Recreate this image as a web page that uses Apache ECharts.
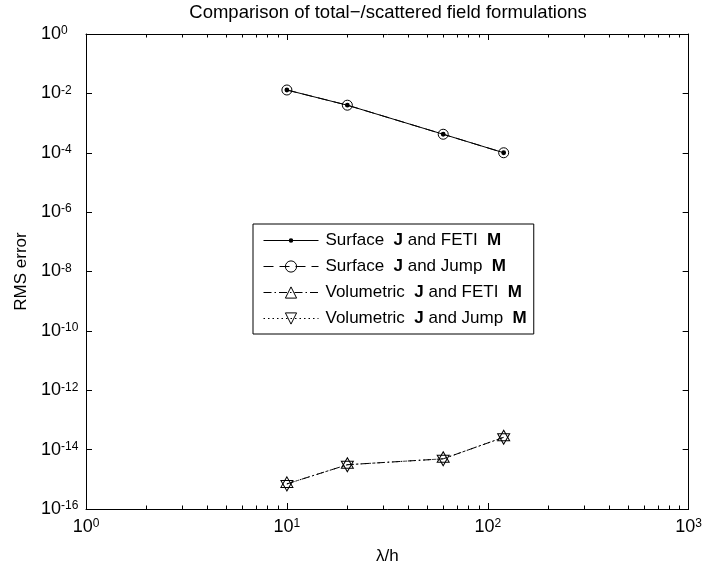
<!DOCTYPE html>
<html><head><meta charset="utf-8">
<script src="https://cdn.jsdelivr.net/npm/echarts@6/dist/echarts.min.js"></script>
<style>html,body{margin:0;padding:0;background:#fff}#c{width:705px;height:571px}</style>
</head><body><div id="c"></div>
<script>
// ---- data ----
const lambdaH = [10, 20, 60, 120];
const surfaceFETI = [1.3e-2, 4.0e-3, 4.2e-4, 1.0e-4];
const surfaceJump = [1.3e-2, 4.0e-3, 4.2e-4, 1.0e-4];
const volumetricFETI = [7.0e-16, 3.1e-15, 4.9e-15, 2.6e-14];
const volumetricJump = [7.0e-16, 3.1e-15, 4.9e-15, 2.6e-14];
const seriesNames = ['Surface J and FETI M', 'Surface J and Jump M', 'Volumetric J and FETI M', 'Volumetric J and Jump M'];
const xMinorTicks = [2,3,4,5,6,7,8,9,20,30,40,50,60,70,80,90,200,300,400,500,600,700,800,900];
const titleText = 'Comparison of total\u2212/scattered field formulations';
const xName = '\u03bb/h';
const yName = 'RMS error';

const FONT = 'Liberation Sans, Arial, Helvetica, sans-serif';
const pairs = ys => lambdaH.map((x, i) => [x, ys[i]]);
const supLabel = v => {
  const e = Math.round(Math.log10(v));
  return '{b|10}{s|' + e + '}';
};
const labelRich = {
  b: { fontSize: 18, lineHeight: 18, padding: [7, 0, 7, 0], fontFamily: FONT, color: '#000' },
  s: { fontSize: 12, lineHeight: 12, verticalAlign: 'top', fontFamily: FONT, color: '#000' }
};
const dotSymbol = 'path://M0,0M12,12M6,3.6A2.4,2.4 0 1 1 5.99,3.6Z';
const hollow = { color: 'rgba(0,0,0,0)', borderColor: '#000', borderWidth: 1 };

const chart = echarts.init(document.getElementById('c'));
chart.setOption({
  animation: false,
  backgroundColor: '#fff',
  title: {
    text: titleText, left: 388, top: 3, textAlign: 'center', padding: 0,
    textStyle: { fontSize: 18.5, fontWeight: 'normal', color: '#000', fontFamily: FONT }
  },
  grid: { left: 86, right: 14, top: 34, bottom: 62 },
  legend: {
    orient: 'vertical', left: 253, top: 224,
    padding: [8, 7, 7, 10],
    itemWidth: 55, itemHeight: 14, itemGap: 9,
    borderColor: '#000', borderWidth: 1, borderRadius: 0, backgroundColor: '#fff',
    selectedMode: false,
    data: seriesNames,
    lineStyle: { width: 1 },
    itemStyle: { borderWidth: 1 },
    formatter: n => n.replace(/^(\S+) J and (\S+) M$/, '$1  {b|J} and $2  {b|M}'),
    textStyle: {
      fontSize: 17, lineHeight: 14, color: '#000', fontFamily: FONT, padding: [0, 0, 0, 2],
      rich: { b: { fontSize: 17, lineHeight: 14, fontWeight: 'bold', color: '#000', fontFamily: FONT } }
    }
  },
  xAxis: [{
    type: 'log', min: 1, max: 1000, position: 'bottom',
    name: xName, nameLocation: 'middle', nameGap: 34,
    nameTextStyle: { fontSize: 17, color: '#000', fontFamily: FONT },
    axisLine: { lineStyle: { color: '#000', width: 1 } },
    axisTick: { inside: true, length: 6, lineStyle: { color: '#000' } },
    axisLabel: { margin: 9, formatter: supLabel, rich: labelRich },
    splitLine: { show: false }
  }, {
    type: 'log', min: 1, max: 1000, position: 'top',
    axisLine: { lineStyle: { color: '#000', width: 1 } },
    axisTick: { inside: true, length: 6, lineStyle: { color: '#000' } },
    axisLabel: { show: false }, splitLine: { show: false }
  }],
  yAxis: [{
    type: 'log', min: 1e-16, max: 1, interval: 2, position: 'left',
    name: yName, nameLocation: 'middle', nameGap: 54, nameRotate: 90,
    nameTextStyle: { fontSize: 17, color: '#000', fontFamily: FONT },
    axisLine: { lineStyle: { color: '#000', width: 1 } },
    axisTick: { inside: true, length: 6, lineStyle: { color: '#000' } },
    axisLabel: { margin: 45, align: 'left', formatter: supLabel, rich: labelRich },
    splitLine: { show: false }
  }, {
    type: 'log', min: 1e-16, max: 1, interval: 2, position: 'right',
    axisLine: { lineStyle: { color: '#000', width: 1 } },
    axisTick: { inside: true, length: 6, lineStyle: { color: '#000' } },
    axisLabel: { show: false }, splitLine: { show: false }
  }],
  series: [
    {
      name: 'minorTicks', type: 'custom', xAxisIndex: 0, yAxisIndex: 0, silent: true, clip: false,
      data: xMinorTicks.map(v => [v, 1e-8]),
      renderItem: (params, api) => {
        const x = Math.round(api.coord([api.value(0), 1e-8])[0]) + 0.5;
        const cs = params.coordSys;
        const b = cs.y + cs.height, t = cs.y;
        return { type: 'group', children: [
          { type: 'line', shape: { x1: x, y1: b, x2: x, y2: b - 3.5 }, style: { stroke: '#000', lineWidth: 1 } },
          { type: 'line', shape: { x1: x, y1: t, x2: x, y2: t + 3.5 }, style: { stroke: '#000', lineWidth: 1 } }
        ]};
      }
    },
    {
      name: seriesNames[0], type: 'line', data: pairs(surfaceFETI),
      symbol: dotSymbol, symbolSize: 12, showSymbol: true,
      itemStyle: { color: '#000' },
      lineStyle: { color: '#000', width: 1, type: 'solid' }
    },
    {
      name: seriesNames[1], type: 'line', data: pairs(surfaceJump),
      symbol: 'circle', symbolSize: 10, showSymbol: true,
      itemStyle: hollow,
      lineStyle: { color: '#000', width: 1, type: [10, 6] }
    },
    {
      name: seriesNames[2], type: 'line', data: pairs(volumetricFETI),
      symbol: 'triangle', symbolSize: [12, 10.5], symbolOffset: [0, -1.75], showSymbol: true,
      itemStyle: hollow,
      lineStyle: { color: '#000', width: 1, type: [8, 3, 1.5, 3] }
    },
    {
      name: seriesNames[3], type: 'line', data: pairs(volumetricJump),
      symbol: 'triangle', symbolRotate: 180, symbolSize: [12, 10.5], symbolOffset: [0, 1.75], showSymbol: true,
      itemStyle: hollow,
      lineStyle: { color: '#000', width: 1, type: [1.5, 3] }
    }
  ]
});
</script></body></html>
